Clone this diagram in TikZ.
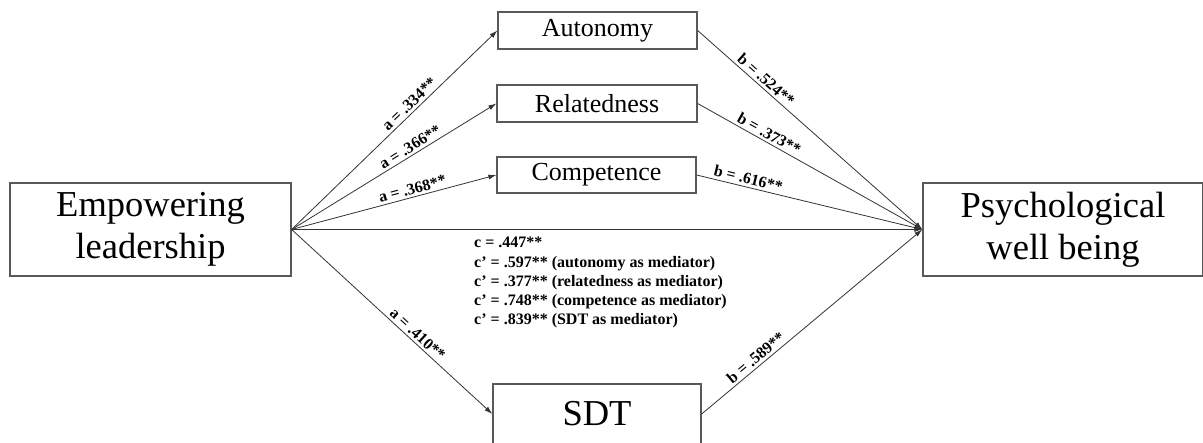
\documentclass[tikz,border=0pt]{standalone}
\usepackage{fontspec}
\setmainfont{Liberation Serif}
\usetikzlibrary{arrows.meta}
\tikzset{
  box/.style={draw=black!65, line width=1.3pt, inner sep=0pt, align=center, text=black},
  bigtxt/.style={font=\fontsize{36.5}{42}\selectfont},
  midtxt/.style={font=\fontsize{26}{30}\selectfont},
  conn/.style={draw=black!80, line width=0.8pt, -{Latex[length=8pt,width=5pt]}},
  lbl/.style={font=\fontsize{16}{19}\selectfont\bfseries, sloped, above, inner sep=2.5pt},
}
\begin{document}
\begin{tikzpicture}[x=1pt,y=-1pt]
\useasboundingbox (0,0) rectangle (1203,443);
\node[box,bigtxt,minimum width=281pt,minimum height=93pt] (emp) at (150.5,229.5) {Empowering\\leadership};
\node[box,bigtxt,minimum width=280pt,minimum height=93pt] (pwb) at (1063,229.5) {Psychological\\well being};
\node[box,midtxt,minimum width=199pt,minimum height=37pt] (aut) at (597.5,30.5) {Autonomy};
\node[box,midtxt,minimum width=200pt,minimum height=37pt] (rel) at (597,103.5) {Relatedness};
\node[box,midtxt,minimum width=199pt,minimum height=36pt] (com) at (596.5,175) {Competence};
\node[box,bigtxt,minimum width=208pt,minimum height=60pt] (sdt) at (597,414) {SDT};

\draw[conn] (emp.east) -- node[lbl,pos=0.6] (la1) {a = .334**} (aut.west);
\draw[conn] (emp.east) -- node[lbl,pos=0.6] (la2) {a = .366**} (rel.west);
\draw[conn] (emp.east) -- node[lbl,pos=0.6] (la3) {a = .368**} (com.west);
\draw[conn] (emp.east) -- node[lbl,pos=0.6] (la4) {a = .410**} (sdt.west);
\draw[conn] (emp.east) -- (pwb.west);
\draw[conn] (aut.east) -- node[lbl,pos=0.28] (lb1) {b = .524**} (pwb.west);
\draw[conn] (rel.east) -- node[lbl,pos=0.3] (lb2) {b = .373**} (pwb.west);
\draw[conn] (com.east) -- node[lbl,pos=0.22] (lb3) {b = .616**} (pwb.west);
\draw[conn] (sdt.east) -- node[lbl,pos=0.27] (lb4) {b = .589**} (pwb.west);

\node[anchor=north west, align=left, inner sep=0pt, font=\fontsize{16}{19.3}\selectfont\bfseries] (cvals) at (474,237)
{c = .447**\\
c’ = .597** (autonomy as mediator)\\
c’ = .377** (relatedness as mediator)\\
c’ = .748** (competence as mediator)\\
c’ = .839** (SDT as mediator)};
\end{tikzpicture}
\end{document}
